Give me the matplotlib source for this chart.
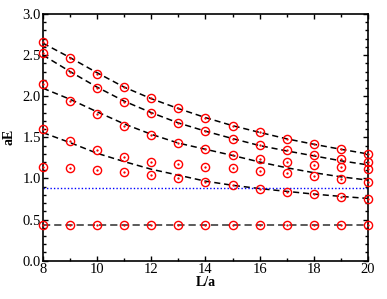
import numpy as np
import matplotlib
matplotlib.use("Agg")
import matplotlib.pyplot as plt
from matplotlib.ticker import MultipleLocator

# data
L = [8, 9, 10, 11, 12, 13, 14, 15, 16, 17, 18, 19, 20]
level_a = [2.66, 2.47, 2.275, 2.113, 1.975, 1.854, 1.74, 1.642, 1.562, 1.481, 1.416, 1.355, 1.298]
level_b = [2.52, 2.29, 2.105, 1.93, 1.80, 1.671, 1.578, 1.484, 1.404, 1.347, 1.282, 1.237, 1.197]
level_c = [2.146, 1.94, 1.785, 1.639, 1.525, 1.428, 1.359, 1.286, 1.237, 1.197, 1.164, 1.14, 1.119]
level_d = [1.60, 1.456, 1.347, 1.262, 1.20, 1.173, 1.144, 1.124, 1.091, 1.063, 1.03, 0.994, 0.961]
level_e = [1.14, 1.124, 1.107, 1.075, 1.046, 1.01, 0.957, 0.917, 0.876, 0.839, 0.808, 0.779, 0.754]
level_f = [0.437] * 13

fit_1 = [2.645, 2.47, 2.285, 2.11, 1.97, 1.85, 1.74, 1.642, 1.56, 1.482, 1.416, 1.355, 1.298]
fit_2 = [2.50, 2.30, 2.11, 1.94, 1.80, 1.675, 1.575, 1.485, 1.40, 1.335, 1.275, 1.215, 1.165]
fit_3 = [2.097, 1.963, 1.81, 1.663, 1.537, 1.43, 1.355, 1.28, 1.20, 1.13, 1.07, 1.02, 0.98]
fit_4 = [1.557, 1.436, 1.306, 1.205, 1.112, 1.04, 0.967, 0.917, 0.877, 0.843, 0.81, 0.782, 0.757]
fit_flat = [0.437] * 13
threshold = 0.88

W, H = 387, 299
fig = plt.figure(figsize=(W / 100, H / 100), dpi=100)
ax = fig.add_axes([43 / W, 1 - 260.7 / H, (368 - 43) / W, (260.7 - 14) / H])

for fit in (fit_1, fit_2, fit_3, fit_4):
    ax.plot(L, fit, color="black", lw=1.1, dashes=(4, 2.5), zorder=2)
ax.plot(L, fit_flat, color="0.3", lw=1.3, dashes=(4, 2.2), zorder=2)
ax.axhline(threshold, color="blue", lw=1.0, ls=(0, (1, 1.5)), zorder=2)

for lev in (level_a, level_b, level_c, level_d, level_e, level_f):
    ax.plot(L, lev, ls="none", marker="o", ms=5.9, mfc="none", mec="red", mew=1.0, zorder=3, clip_on=False)
    ax.plot(L, lev, ls="none", marker="o", ms=1.3, mfc="red", mec="red", mew=0.3, zorder=4, clip_on=False)

ax.set_xlim(8, 20)
ax.set_ylim(0, 3)
ax.xaxis.set_major_locator(MultipleLocator(2))
ax.xaxis.set_minor_locator(MultipleLocator(1))
ax.yaxis.set_major_locator(MultipleLocator(0.5))
ax.yaxis.set_minor_locator(MultipleLocator(0.1))
ax.yaxis.set_major_formatter(matplotlib.ticker.FormatStrFormatter("%.1f"))

font = "Liberation Serif"
ax.tick_params(which="both", direction="in", top=True, right=True, width=1.0, pad=1.5,
               labelsize=10.5, labelfontfamily=font)
ax.tick_params(which="major", length=3.8)
ax.tick_params(which="minor", length=2.0)
for s in ax.spines.values():
    s.set_linewidth(1.2)

ax.set_xlabel("L/a", fontfamily=font, fontweight="bold", fontsize=10, labelpad=0)
ax.set_ylabel("aE", fontfamily=font, fontweight="bold", fontsize=10, labelpad=5)

fig.savefig("out.png", dpi=100)
